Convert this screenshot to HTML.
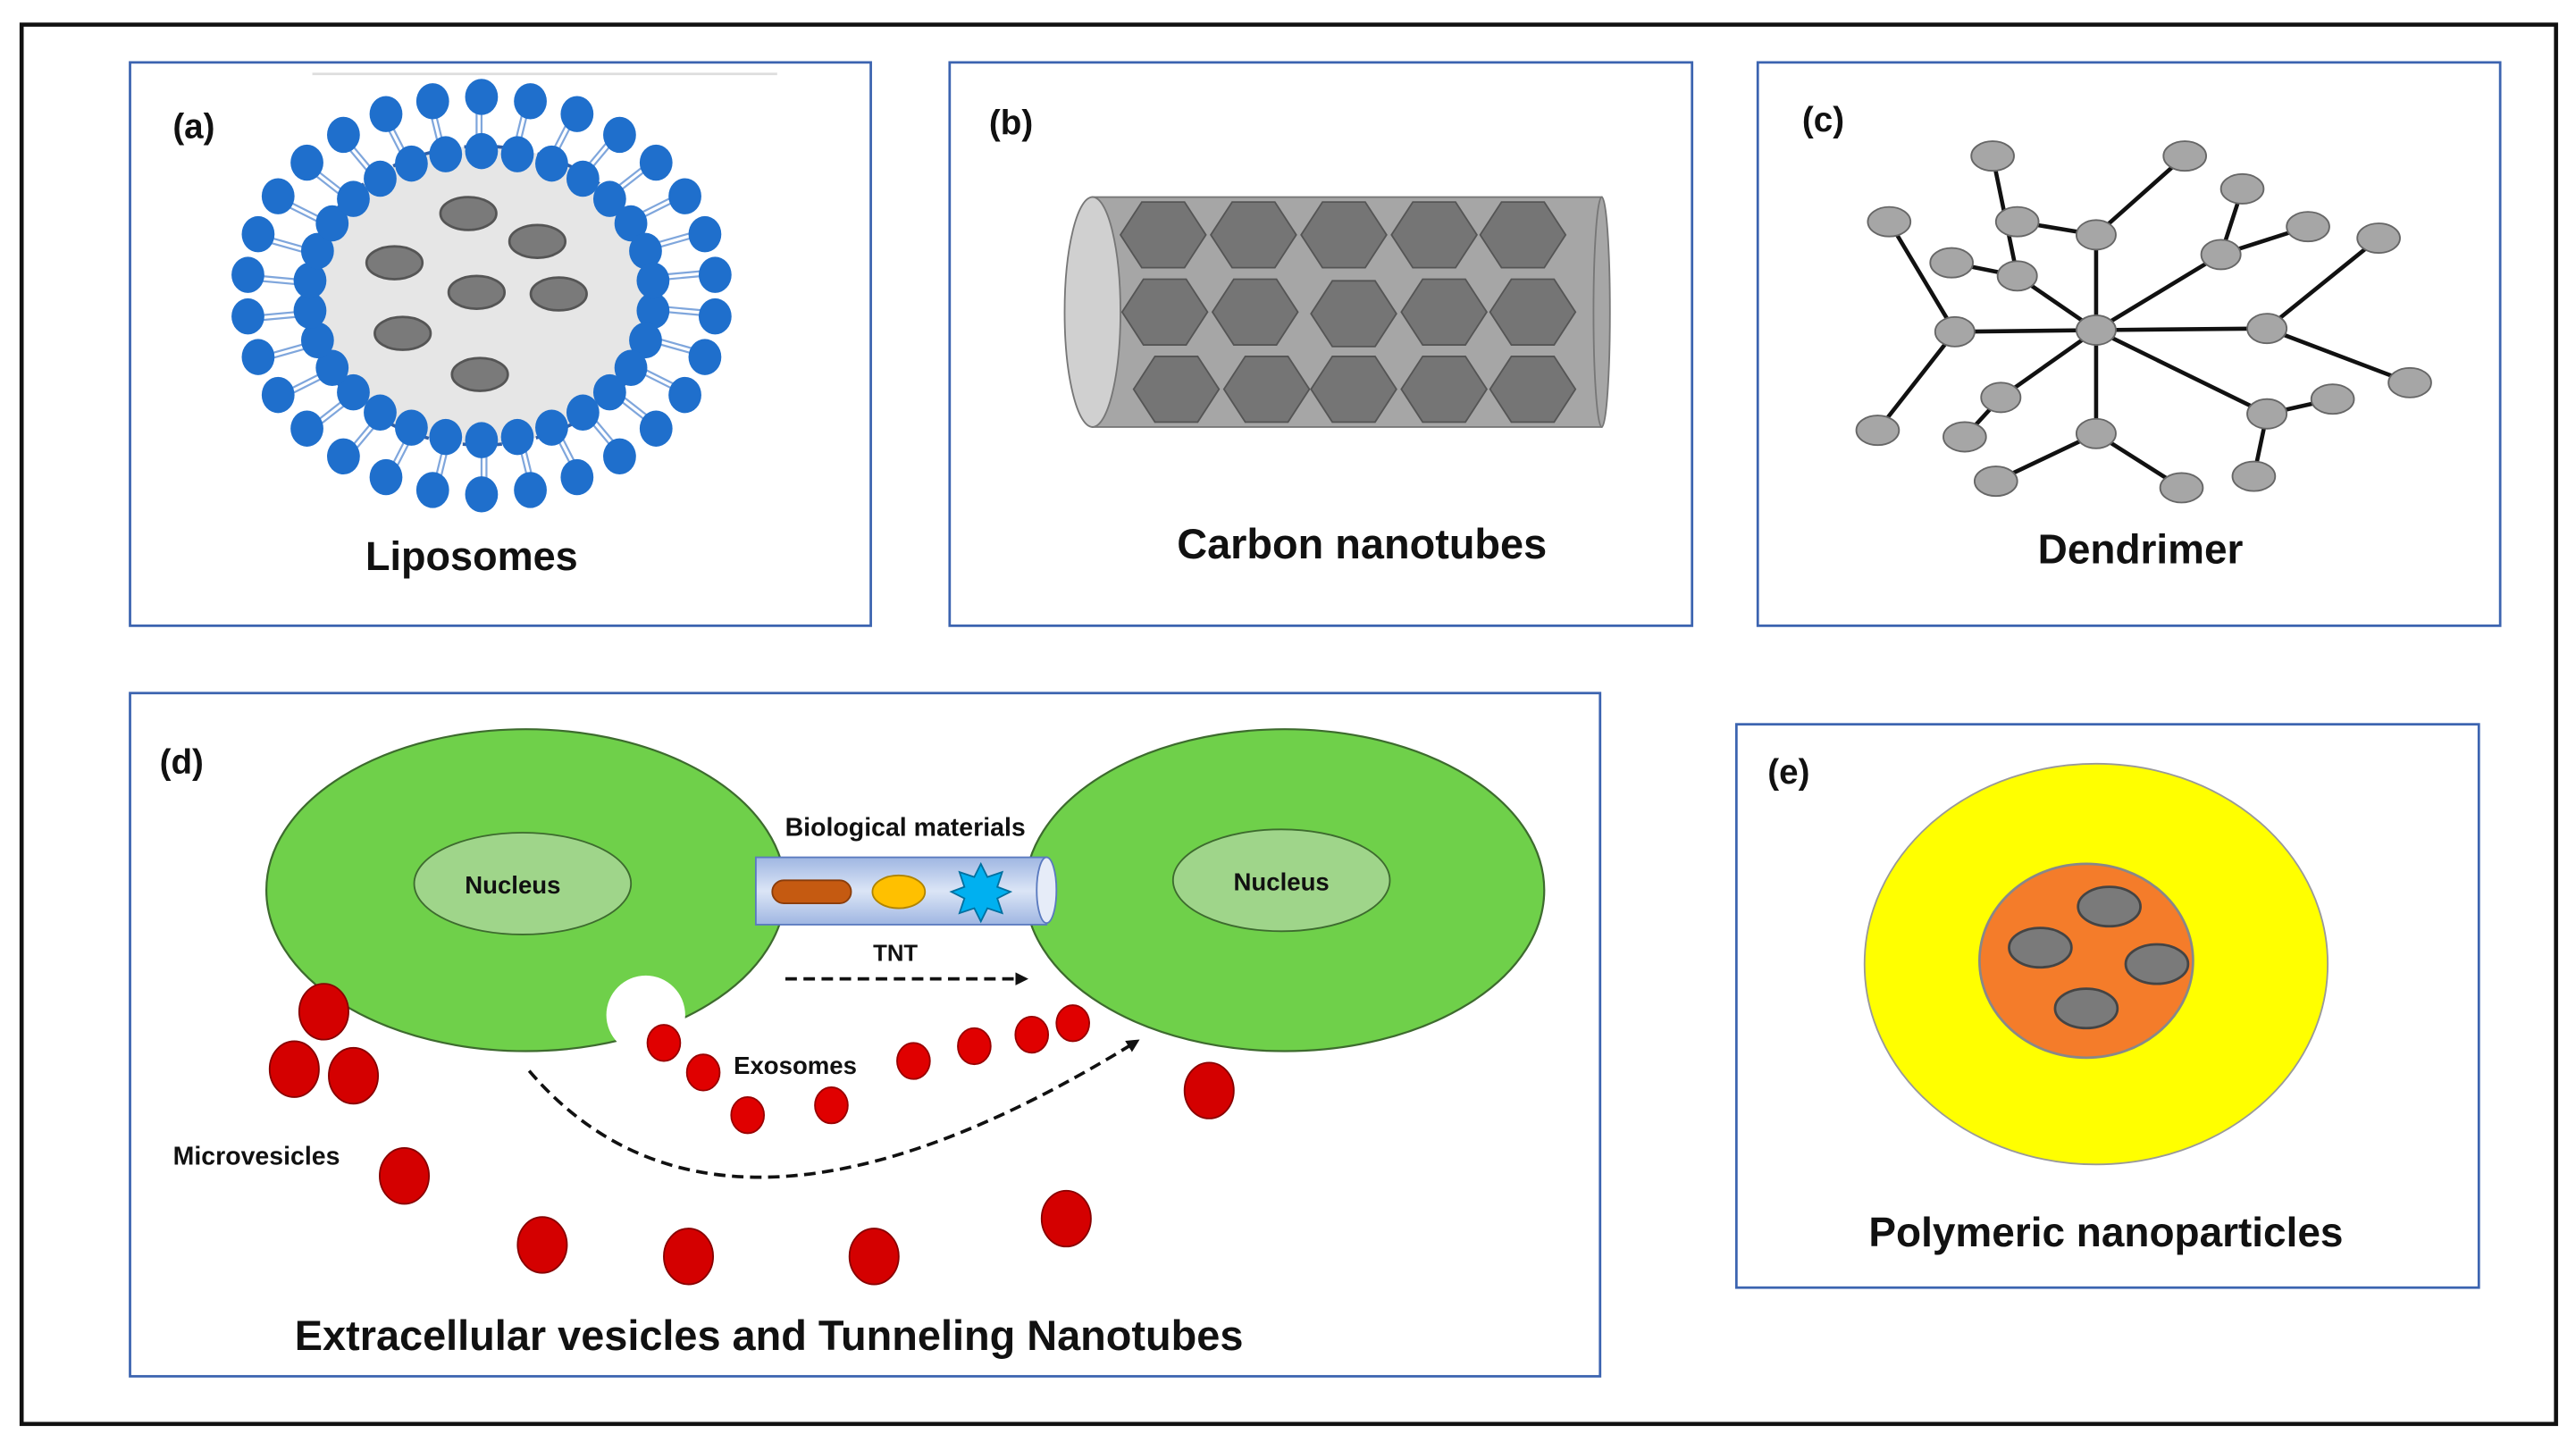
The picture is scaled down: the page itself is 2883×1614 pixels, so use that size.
<!DOCTYPE html>
<html><head><meta charset="utf-8"><style>
html,body{margin:0;padding:0;background:#fff;}
svg{display:block;}
text{font-family:"Liberation Sans",sans-serif;font-weight:bold;fill:#111;}
</style></head><body>
<svg width="2883" height="1614" viewBox="0 0 1568 878" xmlns="http://www.w3.org/2000/svg">
<defs>
<linearGradient id="tube" x1="0" y1="0" x2="0" y2="1"><stop offset="0" stop-color="#9fb6e2"/><stop offset="0.5" stop-color="#dbe5f6"/><stop offset="1" stop-color="#9fb6e2"/></linearGradient>
<marker id="ah" markerWidth="8" markerHeight="8" refX="6" refY="4" orient="auto" markerUnits="userSpaceOnUse"><path d="M0,0 L8,4 L0,8 z" fill="#111"/></marker>
</defs>
<rect x="0" y="0" width="1568" height="878" fill="#fff"/>
<rect x="13" y="15" width="1543" height="852" fill="none" stroke="#111" stroke-width="2.5"/>
<g fill="none" stroke="#3c64b0" stroke-width="1.5">
<rect x="79" y="38" width="451" height="343"/>
<rect x="578" y="38" width="452" height="343"/>
<rect x="1070" y="38" width="452" height="343"/>
<rect x="79" y="422" width="895" height="416"/>
<rect x="1057" y="441" width="452" height="343"/>
</g>
<line x1="190" y1="45" x2="473" y2="45" stroke="#ddd" stroke-width="1.5"/>
<g id="lipo"></g>
<text x="105" y="84" font-size="21">(a)</text>
<text x="287" y="347" font-size="24.5" text-anchor="middle">Liposomes</text>
<text x="602" y="82" font-size="21">(b)</text>
<rect x="665" y="120" width="310" height="140" fill="#a6a6a6" stroke="#777"/>
<ellipse cx="975" cy="190" rx="5" ry="70" fill="#a6a6a6" stroke="#777"/>
<ellipse cx="665" cy="190" rx="17" ry="70" fill="#d0d0d0" stroke="#777"/>
<g id="hexes" fill="#757575" stroke="#555" stroke-width="1"></g>
<text x="829" y="340" font-size="25.5" text-anchor="middle">Carbon nanotubes</text>
<text x="1097" y="80" font-size="21">(c)</text>
<g id="dend"></g>
<text x="1303" y="343" font-size="25" text-anchor="middle">Dendrimer</text>
<text x="97" y="471" font-size="21">(d)</text>
<ellipse cx="320" cy="542" rx="158" ry="98" fill="#6fd04a" stroke="#3d6b2e" stroke-width="1.2"/>
<ellipse cx="782" cy="542" rx="158" ry="98" fill="#6fd04a" stroke="#3d6b2e" stroke-width="1.2"/>
<ellipse cx="318" cy="538" rx="66" ry="31" fill="#9fd58a" stroke="#3d6b2e"/>
<ellipse cx="780" cy="536" rx="66" ry="31" fill="#9fd58a" stroke="#3d6b2e"/>
<text x="312" y="544" font-size="15" text-anchor="middle">Nucleus</text>
<text x="780" y="542" font-size="15" text-anchor="middle">Nucleus</text>
<circle cx="393" cy="618" r="24" fill="#fff"/>
<rect x="460" y="522" width="177" height="41" fill="url(#tube)" stroke="#5a7abf"/>
<ellipse cx="637" cy="542" rx="6" ry="20" fill="#e6ecf8" stroke="#5a7abf"/>
<rect x="470" y="536" width="48" height="14" rx="7" fill="#c55a11" stroke="#8a3d0b"/>
<ellipse cx="547" cy="543" rx="16" ry="10" fill="#ffc000" stroke="#b08400"/>
<polygon points="597,526 601,534 610,531 607,540 615,543 607,547 610,556 601,553 597,561 593,553 584,556 587,547 579,543 587,540 584,531 593,534" fill="#00b0f0" stroke="#0070a0"/>
<text x="551" y="509" font-size="15.5" text-anchor="middle">Biological materials</text>
<text x="545" y="585" font-size="14" text-anchor="middle" font-weight="normal">TNT</text>
<line x1="478" y1="596" x2="624" y2="596" stroke="#111" stroke-width="2" stroke-dasharray="7,4" marker-end="url(#ah)"/>
<path d="M322,652 Q440,790 692,634" fill="none" stroke="#111" stroke-width="2" stroke-dasharray="7,4" marker-end="url(#ah)"/>
<g fill="#e00000" stroke="#900">
<ellipse cx="404" cy="635" rx="10" ry="11"/><ellipse cx="428" cy="653" rx="10" ry="11"/><ellipse cx="455" cy="679" rx="10" ry="11"/><ellipse cx="506" cy="673" rx="10" ry="11"/><ellipse cx="556" cy="646" rx="10" ry="11"/><ellipse cx="593" cy="637" rx="10" ry="11"/><ellipse cx="628" cy="630" rx="10" ry="11"/><ellipse cx="653" cy="623" rx="10" ry="11"/>
</g>
<g fill="#d40000" stroke="#800">
<ellipse cx="197" cy="616" rx="15" ry="17"/><ellipse cx="179" cy="651" rx="15" ry="17"/><ellipse cx="215" cy="655" rx="15" ry="17"/><ellipse cx="246" cy="716" rx="15" ry="17"/><ellipse cx="330" cy="758" rx="15" ry="17"/><ellipse cx="419" cy="765" rx="15" ry="17"/><ellipse cx="532" cy="765" rx="15" ry="17"/><ellipse cx="649" cy="742" rx="15" ry="17"/><ellipse cx="736" cy="664" rx="15" ry="17"/>
</g>
<text x="484" y="654" font-size="15" text-anchor="middle">Exosomes</text>
<text x="156" y="709" font-size="15.5" text-anchor="middle">Microvesicles</text>
<text x="468" y="822" font-size="25.5" text-anchor="middle">Extracellular vesicles and Tunneling Nanotubes</text>
<text x="1076" y="477" font-size="21">(e)</text>
<ellipse cx="1276" cy="587" rx="141" ry="122" fill="#ffff00" stroke="#999"/>
<ellipse cx="1270" cy="585" rx="65" ry="59" fill="#f47c2a" stroke="#888" stroke-width="1.5"/>
<g fill="#7a7a7a" stroke="#444" stroke-width="1.5">
<ellipse cx="1284" cy="552" rx="19" ry="12"/><ellipse cx="1242" cy="577" rx="19" ry="12"/><ellipse cx="1313" cy="587" rx="19" ry="12"/><ellipse cx="1270" cy="614" rx="19" ry="12"/>
</g>
<text x="1282" y="759" font-size="25" text-anchor="middle">Polymeric nanoparticles</text>
</svg>
<script>
var NS="http://www.w3.org/2000/svg";
function el(p,t,a){var e=document.createElementNS(NS,t);for(var k in a)e.setAttribute(k,a[k]);p.appendChild(e);return e;}
var L=document.getElementById("lipo"),cx=293,cy=180;
el(L,"ellipse",{cx:cx,cy:cy,rx:108,ry:91,fill:"#e6e6e6",stroke:"#2e5fa8","stroke-width":2,"stroke-dasharray":"6,3"});
var n=30;
for(var i=0;i<n;i++){var a=(i+0.5)/n*2*Math.PI;var c=Math.cos(a),s=Math.sin(a);
el(L,"line",{x1:cx+105*c,y1:cy+88*s,x2:cx+143*c,y2:cy+121*s,stroke:"#7fa6dc","stroke-width":1.2});
el(L,"line",{x1:cx+105*c+3*s,y1:cy+88*s-3*c,x2:cx+143*c+3*s,y2:cy+121*s-3*c,stroke:"#7fa6dc","stroke-width":1.2});}
for(var i=0;i<n;i++){var a=(i+0.5)/n*2*Math.PI;el(L,"ellipse",{cx:cx+143*Math.cos(a),cy:cy+121*Math.sin(a),rx:10,ry:11,fill:"#1f6fcc"});}
for(var i=0;i<n;i++){var a=(i+0.5)/n*2*Math.PI;el(L,"ellipse",{cx:cx+105*Math.cos(a),cy:cy+88*Math.sin(a),rx:10,ry:11,fill:"#1f6fcc"});}
[[285,130],[327,147],[240,160],[290,178],[340,179],[245,203],[292,228]].forEach(function(p){el(L,"ellipse",{cx:p[0],cy:p[1],rx:17,ry:10,fill:"#7a7a7a",stroke:"#555","stroke-width":1.5});});
var H=document.getElementById("hexes");
function hex(x,y){var w=26,h=20,pts=[[x-w,y],[x-w/2,y-h],[x+w/2,y-h],[x+w,y],[x+w/2,y+h],[x-w/2,y+h]];el(H,"polygon",{points:pts.map(function(p){return p.join(",")}).join(" ")});}
[[708,143],[763,143],[818,143],[873,143],[927,143],[709,190],[764,190],[824,191],[879,190],[933,190],[716,237],[771,237],[824,237],[879,237],[933,237]].forEach(function(p){hex(p[0],p[1]);});
var D=document.getElementById("dend"),C=[1276,201];
var N={a:[1190,202],b:[1380,200],c:[1276,143],d:[1352,155],e:[1228,168],f:[1218,242],g:[1276,264],h:[1380,252]};
var leaf=[["c",[1330,95]],["c",[1228,135]],["e",[1213,95]],["e",[1188,160]],["d",[1365,115]],["d",[1405,138]],["a",[1150,135]],["a",[1143,262]],["b",[1448,145]],["b",[1467,233]],["f",[1196,266]],["g",[1215,293]],["g",[1328,297]],["h",[1420,243]],["h",[1372,290]]];
for(var k in N)el(D,"line",{x1:C[0],y1:C[1],x2:N[k][0],y2:N[k][1],stroke:"#111","stroke-width":2.5});
leaf.forEach(function(l){var p=N[l[0]];el(D,"line",{x1:p[0],y1:p[1],x2:l[1][0],y2:l[1][1],stroke:"#111","stroke-width":2.5});});
el(D,"ellipse",{cx:C[0],cy:C[1],rx:12,ry:9,fill:"#a6a6a6",stroke:"#666"});
for(var k in N)el(D,"ellipse",{cx:N[k][0],cy:N[k][1],rx:12,ry:9,fill:"#a6a6a6",stroke:"#666"});
leaf.forEach(function(l){el(D,"ellipse",{cx:l[1][0],cy:l[1][1],rx:13,ry:9,fill:"#a6a6a6",stroke:"#666"});});
</script>
</body></html>
